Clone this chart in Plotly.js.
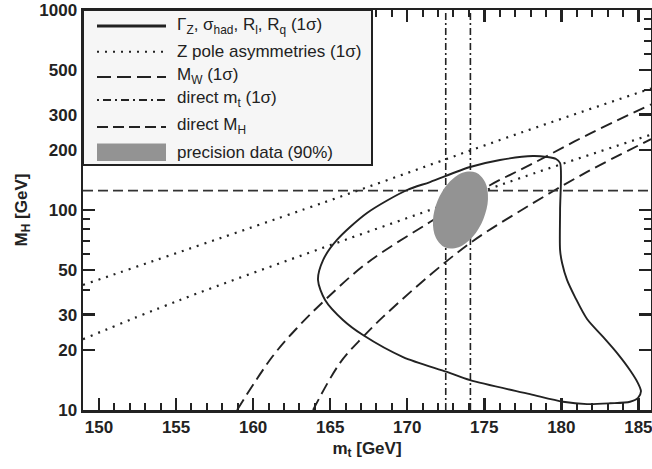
<!DOCTYPE html>
<html>
<head>
<meta charset="utf-8">
<script src="https://cdn.plot.ly/plotly-3.0.1.min.js"></script>
<style>html,body{margin:0;padding:0;background:#fff;}#chart{width:652px;height:469px;}</style>
</head>
<body>
<div id="chart"></div>
<script>
// ---- data ----
const mtTicks = [150, 155, 160, 165, 170, 175, 180, 185];
const mtMinor = [149, 151, 152, 153, 154, 156, 157, 158, 159, 161, 162, 163, 164, 166, 167, 168, 169, 171, 172, 173, 174, 176, 177, 178, 179, 181, 182, 183, 184];
const mhTicks = [10, 20, 30, 50, 100, 200, 300, 500, 1000];
const mhMinor = [40, 60, 70, 80, 90, 400, 600, 700, 800, 900];

// Gamma_Z, sigma_had, R_l, R_q (1 sigma) contour
const zMt = [164.21, 164.54, 165.44, 167.39, 169.99, 171.48, 174.08, 176.02, 178.16, 179.07, 179.66, 179.92, 179.92, 179.92, 180.05, 180.37, 180.89, 181.67, 182.71, 183.61, 184.46, 184.98, 185.17, 184.98, 184.46, 183.16, 181.67, 180.11, 177.97, 174.08, 172.58, 169.73, 167.13, 165.83, 164.67, 164.21];
const zMH = [44.7, 56.2, 70.8, 96.6, 125.9, 138, 164, 177.8, 186.2, 184.1, 179.9, 171.8, 100, 63.1, 54.3, 44.7, 36.7, 28.5, 23.2, 19.3, 15.8, 13.6, 12.4, 11.5, 11.0, 10.8, 10.7, 11.0, 12.0, 14.1, 15.5, 18.4, 23.7, 28.2, 35.5, 44.7];

// Z pole asymmetries (1 sigma) band
const asymUpMt = [148.96, 164.67, 177.51, 185.82];
const asymUpMH = [42.2, 109.6, 245.5, 405];
const asymLoMt = [148.96, 155.26, 164.67, 171.48, 177.51, 185.82];
const asymLoMH = [22.6, 35.5, 65.3, 100, 146, 238];

// M_W (1 sigma) band
const mwUpMt = [158.96, 161.23, 162.85, 164.67, 167.39, 171.48, 175.37, 177.97, 181.67, 185.82];
const mwUpMH = [10, 18.4, 25.7, 35.5, 54.3, 87.1, 133, 168, 237, 337];
const mwLoMt = [163.89, 165.64, 167.13, 168.43, 171.48, 174.27, 177.97, 181.67, 185.82];
const mwLoMH = [10, 17.2, 23.2, 29.2, 47.3, 70, 106, 155, 226];

// direct m_t (1 sigma) and direct M_H
const mtDirect = [172.5, 174.1];
const mhDirect = 125;

// precision data (90%) ellipse outline
const ellMt = [174.45, 175.06, 175.24, 174.94, 174.25, 173.34, 172.47, 171.86, 171.67, 171.97, 172.67, 173.58, 174.45];
const ellMH = [154.0, 137.7, 113.1, 89.9, 73.5, 65.2, 64.9, 72.6, 88.4, 111.3, 136.1, 153.5, 154.0];

const xRange = [148.96, 185.82];
const yRange = [10, 1000];

// legend labels
const legendLabels = [
  'Γ<sub>Z</sub>, σ<sub>had</sub>, R<sub>l</sub>, R<sub>q</sub> (1σ)',
  'Z pole asymmetries (1σ)',
  'M<sub>W</sub> (1σ)',
  'direct m<sub>t</sub> (1σ)',
  'direct M<sub>H</sub>',
  'precision data (90%)'
];

// ---- styles ----
const ink = '#222';
const dotted = '2px,6px';
const longDash = '12px,6px';
const dashDot = '7px,3px,2px,3px';
const shortDash = '10px,5px';
const FONT = 'Liberation Sans, Arial, Helvetica, sans-serif';

const traces = [];
traces.push({x: asymUpMt, y: asymUpMH, mode: 'lines', line: {color: ink, width: 2.2, dash: dotted, shape: 'spline'}, showlegend: false, hoverinfo: 'skip'});
traces.push({x: asymLoMt, y: asymLoMH, mode: 'lines', line: {color: ink, width: 2.2, dash: dotted, shape: 'spline'}, showlegend: false, hoverinfo: 'skip'});
traces.push({x: mwUpMt, y: mwUpMH, mode: 'lines', line: {color: ink, width: 1.9, dash: longDash, shape: 'spline'}, showlegend: false, hoverinfo: 'skip'});
traces.push({x: mwLoMt, y: mwLoMH, mode: 'lines', line: {color: ink, width: 1.9, dash: longDash, shape: 'spline'}, showlegend: false, hoverinfo: 'skip'});
mtDirect.forEach(v => traces.push({x: [v, v], y: yRange, mode: 'lines', line: {color: ink, width: 1.6, dash: dashDot}, showlegend: false, hoverinfo: 'skip'}));
traces.push({x: xRange, y: [mhDirect, mhDirect], mode: 'lines', line: {color: '#333', width: 1.7, dash: shortDash}, showlegend: false, hoverinfo: 'skip'});
traces.push({x: zMt, y: zMH, mode: 'lines', line: {color: ink, width: 1.9, shape: 'spline', smoothing: 0.8}, showlegend: false, hoverinfo: 'skip'});
traces.push({x: ellMt, y: ellMH, mode: 'lines', fill: 'toself', fillcolor: '#939393', line: {width: 0, color: '#939393', shape: 'spline'}, showlegend: false, hoverinfo: 'skip'});

// manual legend (paper coordinates: plot area 83..651 x 10..410 px)
const px = p => (p - 83) / 568;
const py = p => 1 - (p - 10) / 400;
const shapes = [
  {type: 'rect', xref: 'paper', yref: 'paper', x0: 0, x1: px(372), y0: py(165), y1: 1, fillcolor: '#f6f6f6', line: {color: ink, width: 2}, layer: 'above'},
  {type: 'line', xref: 'paper', yref: 'paper', x0: px(97), x1: px(166), y0: py(26), y1: py(26), line: {color: ink, width: 3}, layer: 'above'},
  {type: 'line', xref: 'paper', yref: 'paper', x0: px(97), x1: px(166), y0: py(51.7), y1: py(51.7), line: {color: ink, width: 2, dash: dotted}, layer: 'above'},
  {type: 'line', xref: 'paper', yref: 'paper', x0: px(97), x1: px(166), y0: py(77), y1: py(77), line: {color: ink, width: 2, dash: '14px,6px'}, layer: 'above'},
  {type: 'line', xref: 'paper', yref: 'paper', x0: px(97), x1: px(166), y0: py(100), y1: py(100), line: {color: ink, width: 2, dash: '2px,4px,8px,4px'}, layer: 'above'},
  {type: 'line', xref: 'paper', yref: 'paper', x0: px(97), x1: px(166), y0: py(127), y1: py(127), line: {color: ink, width: 2, dash: '11px,5px'}, layer: 'above'},
  {type: 'rect', xref: 'paper', yref: 'paper', x0: px(97), x1: px(166), y0: py(161), y1: py(143.5), fillcolor: '#939393', line: {width: 0}, layer: 'above'}
];
const rowY = [26, 51, 76, 99, 126, 153];
const annotations = legendLabels.map((t, i) => ({
  xref: 'paper', yref: 'paper', x: px(175), y: py(rowY[i]), xanchor: 'left', yanchor: 'middle',
  text: t, showarrow: false, font: {family: FONT, size: 17, color: ink}
}));

const axisCommon = {
  showline: true, linewidth: 2.5, linecolor: ink, mirror: 'ticks',
  ticks: 'inside', ticklen: 12, tickwidth: 2.5, tickcolor: ink,
  showgrid: false, zeroline: false, ticklabeloverflow: 'allow',
  tickfont: {family: FONT, size: 17, color: ink, weight: 'bold'}
};

const layout = {
  width: 652, height: 469,
  margin: {l: 83, r: 1, t: 10, b: 59},
  paper_bgcolor: '#fff', plot_bgcolor: '#fff',
  showlegend: false,
  xaxis: Object.assign({}, axisCommon, {
    range: xRange, tickmode: 'array', tickvals: mtTicks, ticktext: mtTicks.map(v => '<b>' + v + '</b>'),
    minor: {tickmode: 'array', tickvals: mtMinor, ticks: 'inside', ticklen: 7, tickwidth: 2, tickcolor: ink},
    title: {text: '<b>m<sub>t</sub> [GeV]</b>', font: {family: FONT, size: 17, color: ink}, standoff: 6}
  }),
  yaxis: Object.assign({}, axisCommon, {
    type: 'log', range: [Math.log10(yRange[0]), Math.log10(yRange[1])],
    tickmode: 'array', tickvals: mhTicks, ticktext: mhTicks.map(v => '<b>' + v + '</b>'),
    minor: {tickmode: 'array', tickvals: mhMinor, ticks: 'inside', ticklen: 7, tickwidth: 2, tickcolor: ink},
    title: {text: '<b>M<sub>H</sub> [GeV]</b>', font: {family: FONT, size: 17, color: ink}, standoff: 8}
  }),
  shapes: shapes,
  annotations: annotations
};

Plotly.newPlot('chart', traces, layout, {displayModeBar: false, staticPlot: true});
</script>
</body>
</html>
